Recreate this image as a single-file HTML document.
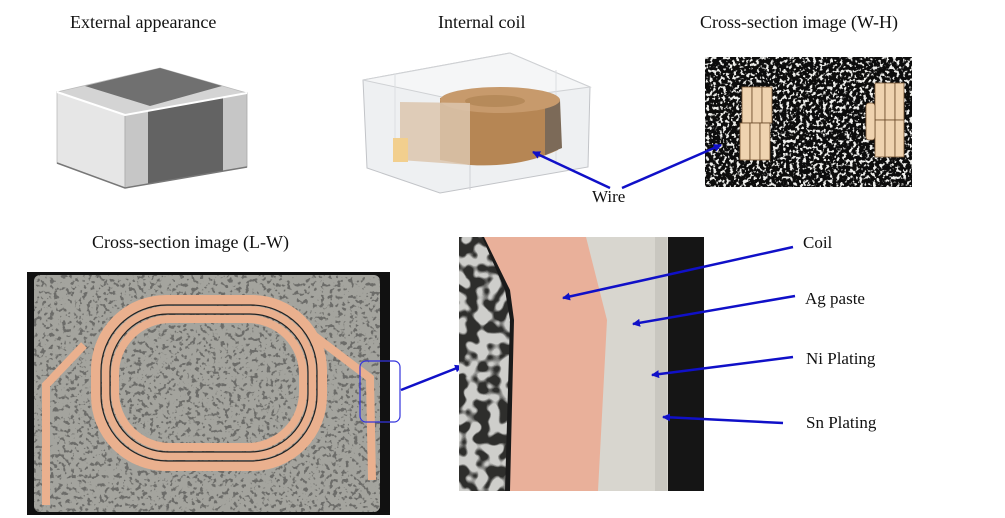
<!DOCTYPE html>
<html><head><meta charset="utf-8"><style>
html,body{margin:0;padding:0;background:#fff;width:1005px;height:518px;overflow:hidden}
svg{display:block}
text{font-family:"Liberation Serif",serif;fill:#111}
</style></head><body>
<svg width="1005" height="518" viewBox="0 0 1005 518" xmlns="http://www.w3.org/2000/svg">
<defs>
<filter id="darkspk" x="0" y="0" width="100%" height="100%">
<feTurbulence type="fractalNoise" baseFrequency="0.24" numOctaves="2" seed="5" result="n"/>
<feColorMatrix in="n" type="matrix" values="0 0 0 0 0.15  0 0 0 0 0.15  0 0 0 0 0.14  10 0 0 0 -5.6" result="c"/>
<feComposite in="c" in2="SourceGraphic" operator="in"/>
</filter>
<filter id="lightspk" x="0" y="0" width="100%" height="100%">
<feTurbulence type="fractalNoise" baseFrequency="0.3" numOctaves="2" seed="9" result="n"/>
<feColorMatrix in="n" type="matrix" values="0 0 0 0 0.85  0 0 0 0 0.85  0 0 0 0 0.83  10 0 0 0 -5.3" result="c"/>
<feComposite in="c" in2="SourceGraphic" operator="in"/>
</filter>
<filter id="bubble" x="0" y="0" width="100%" height="100%">
<feTurbulence type="fractalNoise" baseFrequency="0.09" numOctaves="1" seed="2" result="n"/>
<feColorMatrix in="n" type="matrix" values="0 0 0 0 0.62  0 0 0 0 0.62  0 0 0 0 0.6  10 0 0 0 -4.5" result="c"/>
<feComposite in="c" in2="SourceGraphic" operator="in"/>
</filter>
<marker id="ah" markerWidth="8" markerHeight="8" refX="7" refY="4" orient="auto" markerUnits="userSpaceOnUse"><path d="M0,0 L8,4 L0,8 z" fill="#1010c8"/></marker>
</defs>

<text x="70" y="28" font-size="18">External appearance</text>
<text x="438" y="28" font-size="18">Internal coil</text>
<text x="700" y="28" font-size="18">Cross-section image (W-H)</text>
<text x="92" y="248" font-size="18">Cross-section image (L-W)</text>

<!-- external chip -->
<path d="M57,92 L160,68 L247,93 L125,115 Z" fill="#d4d4d4" stroke="#bbb" stroke-width="0.8" stroke-linejoin="round"/>
<path d="M85,86 L160,68 L222,86 L150,106 Z" fill="#707070"/>
<path d="M57,92 L125,115 L125,188 L57,163 Z" fill="#e6e6e6" stroke="#bbb" stroke-width="0.8"/>
<path d="M125,115 L247,93 L247,167 L125,188 Z" fill="#c6c6c6" stroke="#aaa" stroke-width="0.8"/>
<path d="M148,111 L223,97 L223,171 L148,184 Z" fill="#636363"/>
<path d="M57,92 L125,115 L247,93" fill="none" stroke="#fff" stroke-width="2"/>
<path d="M57,163 L125,188 L247,167" fill="none" stroke="#777" stroke-width="1.5"/>

<!-- internal coil -->
<path d="M363,80 L510,53 L590,87 L588,167 L440,193 L367,168 Z" fill="#eef0f2" stroke="#c2c4c8"/>
<path d="M363,80 L510,53 L590,87 L470,103 Z" fill="#f5f6f7" stroke="#cfd1d4"/>
<path d="M470,103 L470,190" stroke="#d0d2d6"/>
<path d="M395,74 L395,160" stroke="#dcdee1"/>
<path d="M556,70 L556,165" stroke="#dcdee1"/>
<path d="M440,98 Q500,84 560,100 L558,150 Q520,168 470,165 L440,160 Z" fill="#b68654"/>
<path d="M560,100 L562,148 L545,155 L545,105 Z" fill="#7c6a58"/>
<ellipse cx="500" cy="100" rx="60" ry="13" fill="#c79a6c"/>
<ellipse cx="495" cy="101" rx="30" ry="6" fill="#b68a5a"/>
<path d="M400,102 L470,103 L470,165 L400,160 Z" fill="#dcc6ae" opacity="0.85"/>
<rect x="393" y="138" width="15" height="24" fill="#f2cf8e"/>

<!-- W-H cross-section -->
<rect x="705" y="57" width="207" height="130" fill="#0c0c0c"/>
<rect x="705" y="57" width="207" height="130" fill="#000" filter="url(#lightspk)"/>
<g fill="#efd3b0" stroke="#6a4a2a" stroke-width="0.8">
<rect x="742" y="87" width="10" height="36"/><rect x="752" y="87" width="10" height="36"/><rect x="762" y="87" width="10" height="36"/>
<rect x="740" y="123" width="10" height="37"/><rect x="750" y="123" width="10" height="37"/><rect x="760" y="123" width="10" height="37"/>
<rect x="875" y="83" width="10" height="37"/><rect x="885" y="83" width="10" height="37"/><rect x="895" y="83" width="9" height="37"/>
<rect x="875" y="120" width="10" height="37"/><rect x="885" y="120" width="10" height="37"/><rect x="895" y="120" width="9" height="37"/>
<rect x="866" y="103" width="9" height="37" rx="3"/>
</g>

<text x="592" y="202" font-size="17">Wire</text>
<line x1="610" y1="188" x2="533" y2="152" stroke="#1010c8" stroke-width="2.5" marker-end="url(#ah)"/>
<line x1="622" y1="188" x2="721" y2="145" stroke="#1010c8" stroke-width="2.5" marker-end="url(#ah)"/>

<!-- L-W cross-section -->
<rect x="27" y="272" width="363" height="243" fill="#111"/>
<rect x="34" y="275" width="346" height="237" rx="6" fill="#a4a49e"/>
<rect x="34" y="275" width="346" height="237" rx="6" fill="#000" filter="url(#darkspk)"/>
<g fill="none" stroke="#eab08e">
<rect x="96" y="300" width="226" height="166" rx="70" stroke-width="10"/>
<rect x="106" y="310" width="206" height="146" rx="62" stroke-width="8"/>
<rect x="115" y="319" width="188" height="128" rx="55" stroke-width="8"/>
<path d="M46,505 L46,385 L84,345" stroke-width="8"/>
<path d="M300,325 L370,378 L372,480" stroke-width="8"/>
</g>
<g fill="none" stroke="#222" stroke-width="1.2">
<rect x="101" y="305" width="216" height="156" rx="66"/>
<rect x="110" y="314" width="198" height="138" rx="58"/>
</g>
<rect x="360" y="361" width="40" height="61" rx="6" fill="none" stroke="#3333dd" stroke-width="1.2"/>
<line x1="401" y1="390" x2="462" y2="366" stroke="#1010c8" stroke-width="2.5" marker-end="url(#ah)"/>

<!-- zoom image -->
<rect x="459" y="237" width="245" height="254" fill="#1a1a1a"/>
<rect x="459" y="237" width="60" height="254" fill="#2e2e2c"/>
<rect x="459" y="237" width="60" height="254" fill="#000" filter="url(#bubble)"/>
<path d="M482,237 L520,237 L520,491 L505,491 L510,320 L505,290 Z" fill="#1a1a1a"/>
<path d="M520,237 L603,237 L610,320 L605,491 L510,491 L514,320 L510,290 L484,237 Z" fill="#e9b09a"/>
<path d="M586,237 L670,237 L668,491 L598,491 L607,320 Z" fill="#d8d6cf"/>
<rect x="655" y="237" width="12" height="254" fill="#c9c7c0"/>
<rect x="668" y="237" width="36" height="254" fill="#151515"/>

<g stroke="#1010c8" stroke-width="2.5" marker-end="url(#ah)">
<line x1="793" y1="247" x2="563" y2="298"/>
<line x1="795" y1="296" x2="633" y2="324"/>
<line x1="793" y1="357" x2="652" y2="375"/>
<line x1="783" y1="423" x2="663" y2="417"/>
</g>
<text x="803" y="248" font-size="17">Coil</text>
<text x="805" y="304" font-size="17">Ag paste</text>
<text x="806" y="364" font-size="17">Ni Plating</text>
<text x="806" y="428" font-size="17">Sn Plating</text>
</svg>
</body></html>
